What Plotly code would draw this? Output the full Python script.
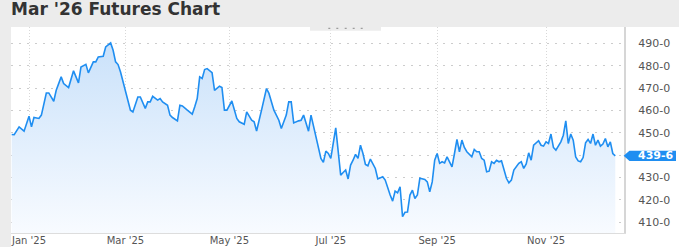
import plotly.graph_objects as go

# ---------------- data ----------------
dates = [
    "2024-12-20", "2024-12-23", "2024-12-26", "2024-12-30",
    "2025-01-02", "2025-01-03", "2025-01-06", "2025-01-08", "2025-01-10", "2025-01-14", "2025-01-15",
    "2025-01-17", "2025-01-21", "2025-01-23", "2025-01-24", "2025-01-28", "2025-01-30",
    "2025-02-03", "2025-02-04", "2025-02-06", "2025-02-07", "2025-02-11", "2025-02-12", "2025-02-13",
    "2025-02-18", "2025-02-19", "2025-02-21", "2025-02-24", "2025-02-25", "2025-02-26", "2025-02-27",
    "2025-03-03", "2025-03-04", "2025-03-05", "2025-03-06", "2025-03-07", "2025-03-10", "2025-03-11",
    "2025-03-13", "2025-03-14", "2025-03-17", "2025-03-18", "2025-03-20", "2025-03-21", "2025-03-24",
    "2025-03-26", "2025-03-27", "2025-03-28",
    "2025-04-01", "2025-04-02", "2025-04-03", "2025-04-07", "2025-04-09", "2025-04-10", "2025-04-11",
    "2025-04-14", "2025-04-15", "2025-04-16", "2025-04-17", "2025-04-22", "2025-04-23", "2025-04-25",
    "2025-04-28", "2025-04-29", "2025-04-30",
    "2025-05-02", "2025-05-06", "2025-05-07", "2025-05-09", "2025-05-12", "2025-05-14", "2025-05-15",
    "2025-05-16", "2025-05-20", "2025-05-22", "2025-05-23", "2025-05-28", "2025-05-30",
    "2025-06-02", "2025-06-04", "2025-06-05", "2025-06-06", "2025-06-09", "2025-06-11", "2025-06-12",
    "2025-06-13", "2025-06-17", "2025-06-18", "2025-06-23", "2025-06-25", "2025-06-26", "2025-06-27",
    "2025-06-30",
    "2025-07-01", "2025-07-03", "2025-07-07", "2025-07-08", "2025-07-09", "2025-07-10", "2025-07-11",
    "2025-07-14", "2025-07-15", "2025-07-16", "2025-07-17", "2025-07-18", "2025-07-21", "2025-07-22",
    "2025-07-23", "2025-07-24", "2025-07-28", "2025-07-29", "2025-07-31",
    "2025-08-01", "2025-08-05", "2025-08-06", "2025-08-07", "2025-08-08", "2025-08-11", "2025-08-12",
    "2025-08-13", "2025-08-14", "2025-08-15", "2025-08-18", "2025-08-19", "2025-08-20", "2025-08-21",
    "2025-08-25", "2025-08-26", "2025-08-27", "2025-08-28", "2025-08-29",
    "2025-09-02", "2025-09-03", "2025-09-04", "2025-09-05", "2025-09-08", "2025-09-09", "2025-09-10",
    "2025-09-11", "2025-09-12", "2025-09-15", "2025-09-16", "2025-09-17", "2025-09-18", "2025-09-22",
    "2025-09-23", "2025-09-24", "2025-09-25", "2025-09-26", "2025-09-29", "2025-09-30",
    "2025-10-01", "2025-10-02", "2025-10-03", "2025-10-06", "2025-10-07", "2025-10-08", "2025-10-09",
    "2025-10-10", "2025-10-13", "2025-10-14", "2025-10-15", "2025-10-17", "2025-10-20", "2025-10-21",
    "2025-10-22", "2025-10-23", "2025-10-24", "2025-10-27", "2025-10-29", "2025-10-30", "2025-10-31",
    "2025-11-03", "2025-11-04", "2025-11-05", "2025-11-06", "2025-11-07", "2025-11-11", "2025-11-12",
    "2025-11-13", "2025-11-14", "2025-11-17", "2025-11-18", "2025-11-19", "2025-11-20", "2025-11-21",
    "2025-11-24", "2025-11-25", "2025-11-26", "2025-11-28",
    "2025-12-01", "2025-12-02", "2025-12-03", "2025-12-04", "2025-12-05", "2025-12-08", "2025-12-09",
    "2025-12-10", "2025-12-11", "2025-12-12",
]

prices = [
    449.3, 449.2, 452.7, 450.8,
    457.5, 452.7, 456.9, 456.5, 458.0, 467.9, 467.9, 464.2, 469.1, 475.1, 472.1, 470.3, 477.8,
    472.4, 479.5, 480.7, 476.9, 481.8, 481.8, 484.0, 484.3, 488.5, 490.3, 487.0, 481.8, 480.6, 477.3,
    469.1, 464.7, 460.2, 459.4, 462.4, 466.1, 466.1, 461.0, 463.9, 463.9, 466.4, 464.7, 465.4, 463.9,
    462.4, 458.0, 456.9,
    455.4, 462.4, 462.1, 460.2, 458.4, 461.7, 465.4, 475.1, 474.4, 478.4, 478.8, 477.0, 469.1, 470.9,
    470.3, 460.2, 460.2,
    464.3, 456.5, 455.0, 453.9, 459.4, 455.7, 455.0, 450.9, 460.2, 469.9, 467.7, 460.2, 455.7,
    452.0, 458.0, 463.9, 463.9, 454.5, 455.4, 455.7, 458.0, 450.8, 458.0, 448.3, 438.6, 436.8, 441.9,
    440.8,
    438.6, 452.3, 441.6, 431.1, 432.3, 433.4, 429.4, 435.6, 437.8, 440.4, 438.6, 444.5, 440.8, 435.9,
    435.3, 438.3, 434.1, 429.4, 430.4,
    428.9, 422.2, 419.5, 424.0, 423.2, 425.9, 412.5, 414.5, 414.6, 422.2, 424.4, 420.7, 422.2, 429.7,
    429.2, 428.1, 423.7, 428.1, 437.8,
    440.8, 436.4, 437.1, 436.6, 439.3, 437.1, 434.8, 440.8, 447.1, 441.6, 446.8, 443.5, 441.6, 439.3,
    442.6, 441.6, 441.6, 438.6, 437.8, 432.6,
    432.9, 437.1, 436.4, 437.8, 437.1, 437.5, 434.1, 429.7, 427.7, 428.9, 433.4, 436.4, 437.1, 434.1,
    436.1, 441.1, 437.8, 444.5, 446.5, 444.5, 444.1,
    446.0, 445.3, 449.5, 443.5, 442.3, 446.0, 449.0, 455.4, 445.3, 449.5, 446.8, 439.3, 437.5, 437.1,
    439.0, 445.6, 447.1, 445.3,
    449.5, 444.5, 446.8, 444.1, 445.0, 447.5, 443.8, 446.0, 440.8, 439.75,
]

holidays = ["2024-12-25", "2025-01-01", "2025-01-09", "2025-01-20", "2025-02-17", "2025-04-18",
            "2025-05-26", "2025-06-19", "2025-07-04", "2025-09-01", "2025-11-27"]

x_tick_vals = ["2025-01-02", "2025-03-03", "2025-05-01", "2025-07-01", "2025-09-02", "2025-11-03"]
x_tick_text = ["Jan '25", "Mar '25", "May '25", "Jul '25", "Sep '25", "Nov '25"]

y_tick_vals = [410, 420, 430, 440, 450, 460, 470, 480, 490]
# the 440 label sits under the last-price tag in the reference, so it is left blank
y_tick_text = ["410-0", "420-0", "430-0", "", "450-0", "460-0", "470-0", "480-0", "490-0"]

title_text = "Mar '26 Futures Chart"
last_label = "439-6"

# ---------------- layout geometry ----------------
W, H = 679, 247
ML, MR, MT, MB = 11, 55, 27, 14
PW, PH = W - ML - MR, H - MT - MB

def px_x(p):
    return (p - ML) / PW

def px_y(p):
    return (H - MB - p) / PH

LINE = "#1f8ef1"
GRAY_BG = "#ececec"

fig = go.Figure()
fig.add_trace(go.Scatter(
    x=dates, y=prices, mode="lines",
    line=dict(color=LINE, width=1.6),
    fill="tozeroy",
    fillgradient=dict(type="vertical", start=405, stop=492,
                      colorscale=[[0, "#f8fbff"], [1, "#c9e1fa"]]),
    hoverinfo="skip", showlegend=False,
))

shapes = []
# top title bar and left strip
shapes.append(dict(type="rect", xref="paper", yref="paper", x0=-0.05, x1=1.12,
                   y0=1.0, y1=1.2, fillcolor=GRAY_BG, line_width=0, layer="above"))
shapes.append(dict(type="rect", xref="paper", yref="paper", x0=-0.05, x1=0,
                   y0=-0.12, y1=1.2, fillcolor=GRAY_BG, line_width=0, layer="above"))
# small tab under the bar
shapes.append(dict(type="rect", xref="paper", yref="paper", x0=px_x(310), x1=px_x(381),
                   y0=px_y(30.7), y1=1.0, fillcolor=GRAY_BG, line_width=0, layer="above"))
for cx in [329.3, 337.3, 345.7, 353.7, 361.7]:
    shapes.append(dict(type="rect", xref="paper", yref="paper", x0=px_x(cx - 1), x1=px_x(cx + 1),
                       y0=px_y(28.8), y1=px_y(27.8), fillcolor="#8a8a8a", line_width=0, layer="above"))

# last price tag
last = prices[-1]
h = 2.3
xt, xl, xr = px_x(623.6), px_x(629.5), px_x(676)
shapes.append(dict(type="path", xref="paper", yref="y", layer="above",
                   path=f"M {xt},{last} L {xl},{last + h} L {xr},{last + h} L {xr},{last - h} L {xl},{last - h} Z",
                   fillcolor=LINE, line_width=0))

annotations = [
    dict(text=f"<b>{title_text}</b>", xref="paper", yref="paper", x=px_x(9), y=px_y(9),
         xanchor="left", yanchor="middle", showarrow=False,
         font=dict(family="DejaVu Sans", size=17, color="#333333")),
    dict(text=f"<b>{last_label}</b>", xref="paper", yref="y", x=px_x(655.5), y=last,
         xanchor="center", yanchor="middle", showarrow=False,
         font=dict(family="DejaVu Sans", size=11, color="white")),
]

fig.update_layout(
    width=W, height=H,
    margin=dict(l=ML, r=MR, t=MT, b=MB, pad=0),
    paper_bgcolor="white", plot_bgcolor="white",
    shapes=shapes, annotations=annotations,
    showlegend=False,
    xaxis=dict(
        type="date",
        range=["2024-12-19 17:17", "2025-12-17 12:43"],
        rangebreaks=[dict(bounds=["sat", "mon"]), dict(values=holidays)],
        tickmode="array", tickvals=x_tick_vals, ticktext=x_tick_text,
        showgrid=True, gridcolor="#d8d8d8", griddash="1px,2px", gridwidth=1,
        showline=True, linecolor="#dddddd", linewidth=1,
        ticks="", ticklabelstandoff=-2,
        tickfont=dict(family="DejaVu Sans", size=10, color="#555555"),
        zeroline=False, automargin=False, fixedrange=True,
    ),
    yaxis=dict(
        side="right",
        range=[405.22, 497.42],
        tickmode="array", tickvals=y_tick_vals, ticktext=y_tick_text,
        showgrid=True, gridcolor="#cccccc", griddash="2px,6px", gridwidth=1,
        showline=True, linecolor="#d6d6d6", linewidth=2,
        ticks="", ticklabelstandoff=10,
        tickfont=dict(family="DejaVu Sans", size=11, color="#555555"),
        zeroline=False, automargin=False, fixedrange=True,
    ),
)

fig.write_html("out.html")
